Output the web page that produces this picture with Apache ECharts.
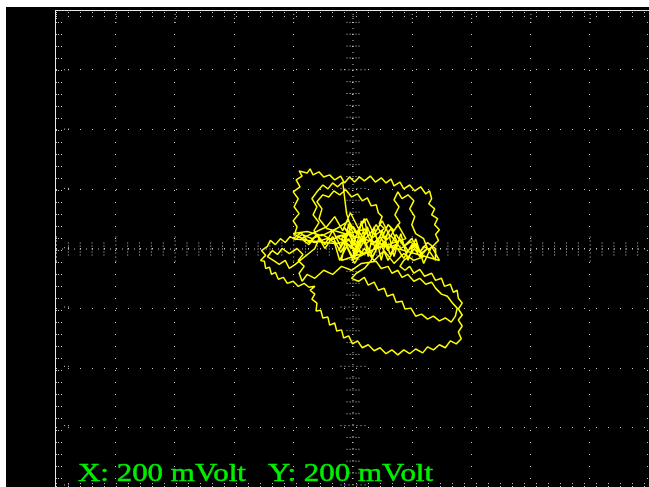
<!DOCTYPE html>
<html>
<head>
<meta charset="utf-8">
<script src="https://cdn.jsdelivr.net/npm/echarts@6/dist/echarts.min.js"></script>
<style>
html, body { margin: 0; padding: 0; background: #000; }
#scope { width: 649px; height: 487px; }
</style>
</head>
<body>
<div id="scope"></div>
<script>
// Screen span in mV: 10 horizontal and 8 vertical divisions of 200 mV
const xRange = [-1000, 1000];
const yRange = [-800, 800];
const divStep = 200;
const readout = ['X: 200 mVolt', 'Y: 200 mVolt'];

// XY trace, [x mV, y mV], split by the loops it draws
const upperOuter = [[-197,43],[-187,73],[-200,93],[-180,117],[-197,140],[-183,167],[-200,190],[-177,207],[-190,230],[-170,243],[-180,260],[-153,253],[-143,267],[-133,247],[-113,257],[-97,240],[-77,247],[-60,230],[-40,243],[-27,220],[-10,240],[7,223],[23,240],[40,227],[60,243],[77,223],[97,237],[113,220],[130,233],[140,210],[160,223],[173,200],[193,213],[210,193],[230,207],[247,183],[260,193],[267,167],[257,150],[277,133],[267,113],[287,100],[277,80],[293,63],[280,47],[290,27],[273,10],[257,-3],[240,7],[227,-13],[207,-3]];
const lowerOuter = [[190,-27],[173,-40],[160,-60],[177,-73],[193,-60],[207,-83],[227,-70],[243,-93],[267,-83],[280,-107],[300,-100],[310,-127],[330,-120],[340,-147],[353,-140],[357,-167],[370,-183],[357,-203],[370,-223],[357,-240],[370,-260],[357,-280],[367,-303],[350,-320],[330,-310],[313,-333],[293,-323],[273,-340],[253,-330],[237,-350],[213,-337],[193,-353],[173,-340],[153,-357],[133,-340],[113,-353],[93,-333],[73,-343],[53,-323],[33,-333],[17,-310],[0,-320],[-13,-293],[-30,-300],[-37,-273],[-53,-277],[-60,-250],[-77,-257],[-83,-230],[-100,-233],[-107,-207],[-123,-210],[-120,-183],[-137,-170],[-127,-153],[-143,-140],[-127,-127]];
const leftOuter = [[-147,-130],[-163,-117],[-183,-127],[-200,-110],[-220,-117],[-233,-97],[-250,-103],[-260,-80],[-273,-87],[-280,-63],[-293,-67],[-297,-43],[-310,-40],[-293,-23],[-307,-7],[-287,7],[-277,27],[-260,13],[-243,33],[-227,20],[-210,40],[-193,30]];
const crossBar = [[-170,47],[-137,33],[-103,47],[-70,30],[-37,43],[-13,27],[-53,17],[-87,33],[-127,20],[-170,33],[-200,50],[-153,57],[-103,43]];
const centreA = [[-53,67],[-13,93],[13,50],[40,100],[53,40],[80,80],[107,33],[130,67],[153,17],[120,0],[93,40],[63,-17],[30,33],[0,-27],[-27,23],[-47,-7],[-13,60],[23,7],[50,73],[77,0],[100,60],[127,-20],[160,33],[187,-7],[213,17],[240,-27],[207,-40],[173,-17],[140,-50],[107,-7],[73,-40],[40,0],[7,-50],[-20,7],[-43,-40],[-60,17]];
const bandOut = [[-200,33],[-173,53],[-147,20],[-120,47],[-93,13],[-67,60],[-40,7],[-13,50],[13,0],[40,67],[67,13],[93,40],[120,-7],[147,47],[173,7],[200,33],[227,-13],[253,20],[280,0]];
const bandBack = [[280,-40],[253,0],[227,-27],[200,13],[173,-33],[147,7],[120,-40],[93,20],[67,-27],[40,27],[13,-20],[-13,33],[-40,-13],[-67,40],[-93,0],[-120,47],[-147,13],[-173,33]];
const bandHigh = [[-87,73],[-60,107],[-33,60],[-7,120],[20,67],[47,100],[73,47],[100,93],[127,40],[153,80],[180,33]];
const centreC = [[-37,-40],[-13,83],[7,-33],[30,93],[53,-27],[73,73],[97,-40],[120,60],[140,-27],[163,50],[187,-40],[213,33],[240,-50],[267,7],[293,-40]];
const upperInner = [[-87,67],[-113,100],[-103,133],[-120,157],[-100,180],[-80,173],[-63,193],[-43,180],[-23,197],[-3,173],[17,183],[33,160],[50,170],[63,143],[80,147],[87,120],[100,107],[90,83],[107,67],[80,47]];
const centreB = [[47,17],[20,60],[-3,0],[-37,33],[3,73],[33,23],[67,57],[97,13],[130,43],[163,0],[197,23],[230,-17],[253,0]];
const rightInner = [[240,33],[213,50],[200,80],[210,107],[193,133],[207,160],[187,180],[167,167],[153,190],[140,163],[157,140],[143,113],[160,87],[140,60],[120,80]];
const lowerInner = [[63,-40],[40,-67],[13,-83],[-3,-100],[20,-110],[40,-97],[53,-123],[73,-113],[87,-140],[107,-133],[117,-160],[137,-153],[147,-180],[167,-177],[177,-203],[197,-200],[213,-227],[233,-220],[253,-237],[273,-227],[293,-243],[313,-233],[333,-247],[347,-227],[353,-200],[337,-183],[320,-160],[300,-153],[280,-133],[267,-113],[247,-120],[227,-100],[207,-110],[187,-87],[167,-97],[153,-73],[133,-83],[120,-60],[97,-67],[80,-43]];
const leftInner = [[30,-50],[-3,-73],[-37,-60],[-67,-87],[-97,-73],[-127,-100],[-153,-87],[-170,-110],[-180,-83],[-163,-60],[-183,-40],[-167,-20],[-187,0],[-213,-17],[-237,0],[-253,-20],[-270,-7],[-287,-27],[-267,-40],[-247,-53],[-227,-40],[-213,-67],[-193,-53]];
const upperLeftInner = [[-127,0],[-113,33],[-130,60],[-113,87],[-133,113],[-120,140],[-137,167],[-120,190],[-100,213],[-83,200],[-67,220],[-50,207],[-33,223]];
const tail = [[-20,117],[7,33],[-30,73],[33,-17],[-53,40],[53,67],[-3,-40],[113,17]];

const trace = [].concat(upperOuter, lowerOuter, leftOuter, crossBar, centreA, bandOut, bandBack,
  bandHigh, centreC, upperInner, centreB, rightInner, lowerInner, leftInner, upperLeftInner, tail);

const dotColor = '#c8c8c8';
const chart = echarts.init(document.getElementById('scope'), null, { renderer: 'canvas' });

const hiddenAxis = (range) => ({
  type: 'value',
  min: range[0],
  max: range[1],
  interval: divStep,
  axisLine: { show: false },
  axisTick: { show: false },
  axisLabel: { show: false },
  splitLine: { show: true, lineStyle: { color: dotColor, width: 1, type: [1, 11] } }
});

chart.setOption({
  backgroundColor: '#000',
  animation: false,
  grid: { left: 56, top: 10, width: 600, height: 480, containLabel: false },
  xAxis: hiddenAxis(xRange),
  yAxis: hiddenAxis(yRange),
  series: [{
    type: 'line',
    data: trace,
    showSymbol: false,
    z: 5,
    clip: true,
    lineStyle: { color: '#ffff00', width: 1.5 }
  }]
});

// Graticule details placed from the axis scales
const [cx, cy] = chart.convertToPixel({ gridIndex: 0 }, [0, 0]);
const [gl, gb] = chart.convertToPixel({ gridIndex: 0 }, [xRange[0], yRange[0]]);
const [gr, gt] = chart.convertToPixel({ gridIndex: 0 }, [xRange[1], yRange[1]]);
const W = chart.getWidth(), H = chart.getHeight();
const minorPx = (gr - gl) / ((xRange[1] - xRange[0]) / (divStep / 5));
const majorEvery = 5;

const g = [];
const dotted = (x1, y1, x2, y2, dash) => g.push({
  type: 'line', z: 1, silent: true,
  shape: { x1, y1, x2, y2 },
  style: { stroke: dotColor, lineWidth: 1, lineDash: dash }
});

// frame
g.push({ type: 'rect', z: 1, shape: { x: 0, y: 0, width: W, height: 7 }, style: { fill: '#fff' } });
g.push({ type: 'rect', z: 1, shape: { x: 0, y: 0, width: 6, height: H }, style: { fill: '#fff' } });
g.push({ type: 'line', z: 1, shape: { x1: gl - 0.5, y1: gt, x2: gl - 0.5, y2: H }, style: { stroke: '#e8e8e8', lineWidth: 1 } });
g.push({ type: 'line', z: 1, shape: { x1: gl - 1, y1: gt + 0.5, x2: W, y2: gt + 0.5 }, style: { stroke: '#e8e8e8', lineWidth: 1 } });

// centre axes with fine dots
dotted(cx + 0.5, gt, cx + 0.5, gb, [1, 5]);
dotted(gl, cy + 0.5, gr, cy + 0.5, [1, 5]);
for (let k = 0, y = gt; y <= gb; k++, y = gt + k * minorPx) {
  if (k % majorEvery === 0) dotted(cx - 12, y + 0.5, cx + 13, y + 0.5, [1, 3]);
  else dotted(cx - 6, y + 0.5, cx + 7, y + 0.5, [1, 2]);
}
for (let k = 0, x = gl; x <= gr; k++, x = gl + k * minorPx) {
  if (k % majorEvery === 0) dotted(x + 0.5, cy - 12, x + 0.5, cy + 13, [1, 3]);
  else dotted(x + 0.5, cy - 6, x + 0.5, cy + 7, [1, 2]);
}

// border ticks
dotted(gl, gt + 2.5, W, gt + 2.5, [1, 11]);
dotted(gl, gt + 6.5, W, gt + 6.5, [1, 11]);
dotted(gl + 2.5, gt, gl + 2.5, H, [1, 11]);
dotted(gl + 5.5, gt, gl + 5.5, H, [1, 11]);
dotted(W - 0.5 - 1, gt, W - 0.5 - 1, H, [1, 11]);
dotted(gl, H - 3.5, W, H - 3.5, [1, 11]);
dotted(gl, H - 0.5, W, H - 0.5, [1, 11]);
for (let x = gl; x <= W; x += minorPx * majorEvery) dotted(x + 0.5, gt + 4, x + 0.5, gt + 13, [1, 3]);
for (let y = gt; y <= H; y += minorPx * majorEvery) dotted(gl + 8, y + 0.5, gl + 14, y + 0.5, [1, 3]);

// channel readout
const readoutX = [78, 268];
readout.forEach((t, i) => g.push({
  type: 'text', z: 10, silent: true,
  x: readoutX[i], y: 474, scaleX: 1.19, scaleY: 1,
  style: {
    text: t, fill: '#00ee00', stroke: '#00ee00', lineWidth: 0.5,
    font: '26px "Liberation Serif", "Times New Roman", serif',
    align: 'left', verticalAlign: 'middle'
  }
}));

chart.setOption({ graphic: g });
</script>
</body>
</html>
